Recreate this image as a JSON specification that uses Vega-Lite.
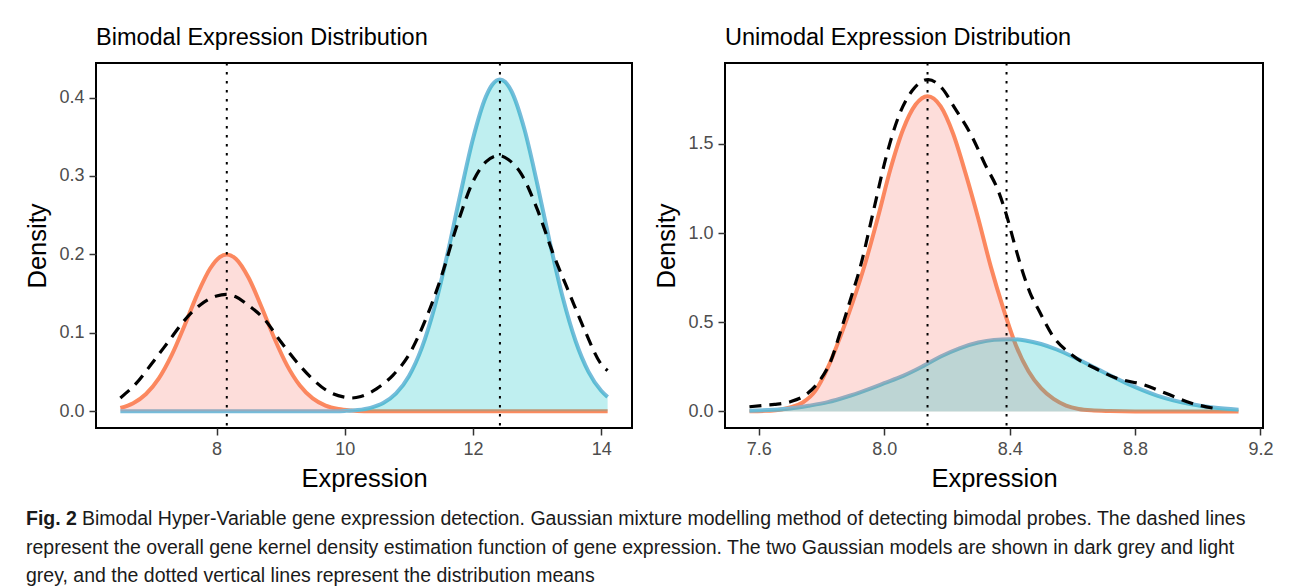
{
  "$schema": "https://vega.github.io/schema/vega-lite/v6.json",
  "background": "white",
  "padding": {"left": 24, "top": 24, "right": 5, "bottom": 0},
  "datasets": {
    "curves": [
      {"panel": "bimodal", "series": "g1", "expr": 6.5, "dens": 0.0044},
      {"panel": "bimodal", "series": "g1", "expr": 6.7, "dens": 0.0104},
      {"panel": "bimodal", "series": "g1", "expr": 6.9, "dens": 0.0221},
      {"panel": "bimodal", "series": "g1", "expr": 7.1, "dens": 0.042},
      {"panel": "bimodal", "series": "g1", "expr": 7.3, "dens": 0.0716},
      {"panel": "bimodal", "series": "g1", "expr": 7.5, "dens": 0.1092},
      {"panel": "bimodal", "series": "g1", "expr": 7.7, "dens": 0.1491},
      {"panel": "bimodal", "series": "g1", "expr": 7.9, "dens": 0.1821},
      {"panel": "bimodal", "series": "g1", "expr": 8.05, "dens": 0.1967},
      {"panel": "bimodal", "series": "g1", "expr": 8.16, "dens": 0.2},
      {"panel": "bimodal", "series": "g1", "expr": 8.3, "dens": 0.1946},
      {"panel": "bimodal", "series": "g1", "expr": 8.5, "dens": 0.1703},
      {"panel": "bimodal", "series": "g1", "expr": 8.7, "dens": 0.1334},
      {"panel": "bimodal", "series": "g1", "expr": 8.9, "dens": 0.0935},
      {"panel": "bimodal", "series": "g1", "expr": 9.1, "dens": 0.0586},
      {"panel": "bimodal", "series": "g1", "expr": 9.3, "dens": 0.0329},
      {"panel": "bimodal", "series": "g1", "expr": 9.5, "dens": 0.0165},
      {"panel": "bimodal", "series": "g1", "expr": 9.7, "dens": 0.0074},
      {"panel": "bimodal", "series": "g1", "expr": 9.9, "dens": 0.003},
      {"panel": "bimodal", "series": "g1", "expr": 10.1, "dens": 0.0011},
      {"panel": "bimodal", "series": "g1", "expr": 10.3, "dens": 0.0003},
      {"panel": "bimodal", "series": "g1", "expr": 10.6, "dens": 0},
      {"panel": "bimodal", "series": "g1", "expr": 11.5, "dens": 0},
      {"panel": "bimodal", "series": "g1", "expr": 12.5, "dens": 0},
      {"panel": "bimodal", "series": "g1", "expr": 13.5, "dens": 0},
      {"panel": "bimodal", "series": "g1", "expr": 14.1, "dens": 0},

      {"panel": "bimodal", "series": "g2", "expr": 6.5, "dens": 0},
      {"panel": "bimodal", "series": "g2", "expr": 7.5, "dens": 0},
      {"panel": "bimodal", "series": "g2", "expr": 8.5, "dens": 0},
      {"panel": "bimodal", "series": "g2", "expr": 9.5, "dens": 0},
      {"panel": "bimodal", "series": "g2", "expr": 9.8, "dens": 0.0002},
      {"panel": "bimodal", "series": "g2", "expr": 10.0, "dens": 0.0006},
      {"panel": "bimodal", "series": "g2", "expr": 10.2, "dens": 0.0017},
      {"panel": "bimodal", "series": "g2", "expr": 10.4, "dens": 0.0045},
      {"panel": "bimodal", "series": "g2", "expr": 10.6, "dens": 0.0106},
      {"panel": "bimodal", "series": "g2", "expr": 10.8, "dens": 0.0228},
      {"panel": "bimodal", "series": "g2", "expr": 11.0, "dens": 0.0448},
      {"panel": "bimodal", "series": "g2", "expr": 11.2, "dens": 0.0806},
      {"panel": "bimodal", "series": "g2", "expr": 11.4, "dens": 0.1328},
      {"panel": "bimodal", "series": "g2", "expr": 11.6, "dens": 0.2},
      {"panel": "bimodal", "series": "g2", "expr": 11.8, "dens": 0.2757},
      {"panel": "bimodal", "series": "g2", "expr": 12.0, "dens": 0.3475},
      {"panel": "bimodal", "series": "g2", "expr": 12.2, "dens": 0.4008},
      {"panel": "bimodal", "series": "g2", "expr": 12.3, "dens": 0.4163},
      {"panel": "bimodal", "series": "g2", "expr": 12.42, "dens": 0.423},
      {"panel": "bimodal", "series": "g2", "expr": 12.5, "dens": 0.42},
      {"panel": "bimodal", "series": "g2", "expr": 12.6, "dens": 0.408},
      {"panel": "bimodal", "series": "g2", "expr": 12.8, "dens": 0.3601},
      {"panel": "bimodal", "series": "g2", "expr": 13.0, "dens": 0.2908},
      {"panel": "bimodal", "series": "g2", "expr": 13.2, "dens": 0.2148},
      {"panel": "bimodal", "series": "g2", "expr": 13.4, "dens": 0.1451},
      {"panel": "bimodal", "series": "g2", "expr": 13.6, "dens": 0.0897},
      {"panel": "bimodal", "series": "g2", "expr": 13.8, "dens": 0.0507},
      {"panel": "bimodal", "series": "g2", "expr": 14.0, "dens": 0.0262},
      {"panel": "bimodal", "series": "g2", "expr": 14.1, "dens": 0.0182},

      {"panel": "bimodal", "series": "kde", "expr": 6.5, "dens": 0.017},
      {"panel": "bimodal", "series": "kde", "expr": 6.75, "dens": 0.036},
      {"panel": "bimodal", "series": "kde", "expr": 7.0, "dens": 0.062},
      {"panel": "bimodal", "series": "kde", "expr": 7.25, "dens": 0.089},
      {"panel": "bimodal", "series": "kde", "expr": 7.5, "dens": 0.116},
      {"panel": "bimodal", "series": "kde", "expr": 7.75, "dens": 0.136},
      {"panel": "bimodal", "series": "kde", "expr": 8.0, "dens": 0.147},
      {"panel": "bimodal", "series": "kde", "expr": 8.15, "dens": 0.149},
      {"panel": "bimodal", "series": "kde", "expr": 8.3, "dens": 0.146},
      {"panel": "bimodal", "series": "kde", "expr": 8.5, "dens": 0.135},
      {"panel": "bimodal", "series": "kde", "expr": 8.75, "dens": 0.117},
      {"panel": "bimodal", "series": "kde", "expr": 9.0, "dens": 0.089},
      {"panel": "bimodal", "series": "kde", "expr": 9.25, "dens": 0.063},
      {"panel": "bimodal", "series": "kde", "expr": 9.5, "dens": 0.041},
      {"panel": "bimodal", "series": "kde", "expr": 9.75, "dens": 0.025},
      {"panel": "bimodal", "series": "kde", "expr": 10.0, "dens": 0.018},
      {"panel": "bimodal", "series": "kde", "expr": 10.1, "dens": 0.017},
      {"panel": "bimodal", "series": "kde", "expr": 10.25, "dens": 0.019},
      {"panel": "bimodal", "series": "kde", "expr": 10.5, "dens": 0.029},
      {"panel": "bimodal", "series": "kde", "expr": 10.75, "dens": 0.046},
      {"panel": "bimodal", "series": "kde", "expr": 11.0, "dens": 0.072},
      {"panel": "bimodal", "series": "kde", "expr": 11.25, "dens": 0.115},
      {"panel": "bimodal", "series": "kde", "expr": 11.5, "dens": 0.17},
      {"panel": "bimodal", "series": "kde", "expr": 11.75, "dens": 0.237},
      {"panel": "bimodal", "series": "kde", "expr": 12.0, "dens": 0.293},
      {"panel": "bimodal", "series": "kde", "expr": 12.2, "dens": 0.318},
      {"panel": "bimodal", "series": "kde", "expr": 12.4, "dens": 0.326},
      {"panel": "bimodal", "series": "kde", "expr": 12.55, "dens": 0.321},
      {"panel": "bimodal", "series": "kde", "expr": 12.75, "dens": 0.303},
      {"panel": "bimodal", "series": "kde", "expr": 13.0, "dens": 0.258},
      {"panel": "bimodal", "series": "kde", "expr": 13.25, "dens": 0.201},
      {"panel": "bimodal", "series": "kde", "expr": 13.5, "dens": 0.151},
      {"panel": "bimodal", "series": "kde", "expr": 13.75, "dens": 0.102},
      {"panel": "bimodal", "series": "kde", "expr": 14.0, "dens": 0.06},
      {"panel": "bimodal", "series": "kde", "expr": 14.1, "dens": 0.052},

      {"panel": "unimodal", "series": "g1", "expr": 7.57, "dens": 0.001},
      {"panel": "unimodal", "series": "g1", "expr": 7.62, "dens": 0.003},
      {"panel": "unimodal", "series": "g1", "expr": 7.66, "dens": 0.008},
      {"panel": "unimodal", "series": "g1", "expr": 7.7, "dens": 0.022},
      {"panel": "unimodal", "series": "g1", "expr": 7.74, "dens": 0.05},
      {"panel": "unimodal", "series": "g1", "expr": 7.78, "dens": 0.115},
      {"panel": "unimodal", "series": "g1", "expr": 7.82, "dens": 0.245},
      {"panel": "unimodal", "series": "g1", "expr": 7.86, "dens": 0.42},
      {"panel": "unimodal", "series": "g1", "expr": 7.9, "dens": 0.615},
      {"panel": "unimodal", "series": "g1", "expr": 7.94, "dens": 0.835},
      {"panel": "unimodal", "series": "g1", "expr": 7.98, "dens": 1.09},
      {"panel": "unimodal", "series": "g1", "expr": 8.02, "dens": 1.36},
      {"panel": "unimodal", "series": "g1", "expr": 8.06, "dens": 1.58},
      {"panel": "unimodal", "series": "g1", "expr": 8.1, "dens": 1.72},
      {"panel": "unimodal", "series": "g1", "expr": 8.138, "dens": 1.767},
      {"panel": "unimodal", "series": "g1", "expr": 8.18, "dens": 1.71},
      {"panel": "unimodal", "series": "g1", "expr": 8.22, "dens": 1.555},
      {"panel": "unimodal", "series": "g1", "expr": 8.26, "dens": 1.33},
      {"panel": "unimodal", "series": "g1", "expr": 8.3, "dens": 1.08},
      {"panel": "unimodal", "series": "g1", "expr": 8.34, "dens": 0.81},
      {"panel": "unimodal", "series": "g1", "expr": 8.38, "dens": 0.575},
      {"panel": "unimodal", "series": "g1", "expr": 8.42, "dens": 0.37},
      {"panel": "unimodal", "series": "g1", "expr": 8.46, "dens": 0.225},
      {"panel": "unimodal", "series": "g1", "expr": 8.5, "dens": 0.13},
      {"panel": "unimodal", "series": "g1", "expr": 8.54, "dens": 0.07},
      {"panel": "unimodal", "series": "g1", "expr": 8.58, "dens": 0.033},
      {"panel": "unimodal", "series": "g1", "expr": 8.62, "dens": 0.014},
      {"panel": "unimodal", "series": "g1", "expr": 8.66, "dens": 0.006},
      {"panel": "unimodal", "series": "g1", "expr": 8.72, "dens": 0.002},
      {"panel": "unimodal", "series": "g1", "expr": 8.8, "dens": 0},
      {"panel": "unimodal", "series": "g1", "expr": 9.0, "dens": 0},
      {"panel": "unimodal", "series": "g1", "expr": 9.13, "dens": 0},

      {"panel": "unimodal", "series": "g2", "expr": 7.57, "dens": 0.004},
      {"panel": "unimodal", "series": "g2", "expr": 7.65, "dens": 0.009},
      {"panel": "unimodal", "series": "g2", "expr": 7.7, "dens": 0.016},
      {"panel": "unimodal", "series": "g2", "expr": 7.76, "dens": 0.032},
      {"panel": "unimodal", "series": "g2", "expr": 7.82, "dens": 0.052},
      {"panel": "unimodal", "series": "g2", "expr": 7.88, "dens": 0.082},
      {"panel": "unimodal", "series": "g2", "expr": 7.94, "dens": 0.118},
      {"panel": "unimodal", "series": "g2", "expr": 8.0, "dens": 0.158},
      {"panel": "unimodal", "series": "g2", "expr": 8.06, "dens": 0.199},
      {"panel": "unimodal", "series": "g2", "expr": 8.12, "dens": 0.25},
      {"panel": "unimodal", "series": "g2", "expr": 8.18, "dens": 0.308},
      {"panel": "unimodal", "series": "g2", "expr": 8.24, "dens": 0.354},
      {"panel": "unimodal", "series": "g2", "expr": 8.3, "dens": 0.386},
      {"panel": "unimodal", "series": "g2", "expr": 8.35, "dens": 0.401},
      {"panel": "unimodal", "series": "g2", "expr": 8.4, "dens": 0.405},
      {"panel": "unimodal", "series": "g2", "expr": 8.45, "dens": 0.398},
      {"panel": "unimodal", "series": "g2", "expr": 8.5, "dens": 0.378},
      {"panel": "unimodal", "series": "g2", "expr": 8.55, "dens": 0.347},
      {"panel": "unimodal", "series": "g2", "expr": 8.6, "dens": 0.308},
      {"panel": "unimodal", "series": "g2", "expr": 8.68, "dens": 0.237},
      {"panel": "unimodal", "series": "g2", "expr": 8.77, "dens": 0.16},
      {"panel": "unimodal", "series": "g2", "expr": 8.87, "dens": 0.089},
      {"panel": "unimodal", "series": "g2", "expr": 8.98, "dens": 0.04},
      {"panel": "unimodal", "series": "g2", "expr": 9.05, "dens": 0.022},
      {"panel": "unimodal", "series": "g2", "expr": 9.13, "dens": 0.01},

      {"panel": "unimodal", "series": "kde", "expr": 7.57, "dens": 0.026},
      {"panel": "unimodal", "series": "kde", "expr": 7.61, "dens": 0.033},
      {"panel": "unimodal", "series": "kde", "expr": 7.65, "dens": 0.039},
      {"panel": "unimodal", "series": "kde", "expr": 7.7, "dens": 0.054},
      {"panel": "unimodal", "series": "kde", "expr": 7.755, "dens": 0.1},
      {"panel": "unimodal", "series": "kde", "expr": 7.795, "dens": 0.175},
      {"panel": "unimodal", "series": "kde", "expr": 7.83, "dens": 0.285},
      {"panel": "unimodal", "series": "kde", "expr": 7.86, "dens": 0.445},
      {"panel": "unimodal", "series": "kde", "expr": 7.89, "dens": 0.615},
      {"panel": "unimodal", "series": "kde", "expr": 7.925, "dens": 0.82},
      {"panel": "unimodal", "series": "kde", "expr": 7.965, "dens": 1.12},
      {"panel": "unimodal", "series": "kde", "expr": 8.005, "dens": 1.42},
      {"panel": "unimodal", "series": "kde", "expr": 8.045, "dens": 1.65},
      {"panel": "unimodal", "series": "kde", "expr": 8.09, "dens": 1.8},
      {"panel": "unimodal", "series": "kde", "expr": 8.14, "dens": 1.86},
      {"panel": "unimodal", "series": "kde", "expr": 8.185, "dens": 1.81},
      {"panel": "unimodal", "series": "kde", "expr": 8.225, "dens": 1.7},
      {"panel": "unimodal", "series": "kde", "expr": 8.28, "dens": 1.54},
      {"panel": "unimodal", "series": "kde", "expr": 8.32, "dens": 1.39},
      {"panel": "unimodal", "series": "kde", "expr": 8.365, "dens": 1.23},
      {"panel": "unimodal", "series": "kde", "expr": 8.39, "dens": 1.1},
      {"panel": "unimodal", "series": "kde", "expr": 8.415, "dens": 0.94},
      {"panel": "unimodal", "series": "kde", "expr": 8.44, "dens": 0.79},
      {"panel": "unimodal", "series": "kde", "expr": 8.465, "dens": 0.665},
      {"panel": "unimodal", "series": "kde", "expr": 8.495, "dens": 0.56},
      {"panel": "unimodal", "series": "kde", "expr": 8.535, "dens": 0.43},
      {"panel": "unimodal", "series": "kde", "expr": 8.6, "dens": 0.315},
      {"panel": "unimodal", "series": "kde", "expr": 8.68, "dens": 0.235},
      {"panel": "unimodal", "series": "kde", "expr": 8.735, "dens": 0.19},
      {"panel": "unimodal", "series": "kde", "expr": 8.83, "dens": 0.148},
      {"panel": "unimodal", "series": "kde", "expr": 8.9, "dens": 0.1},
      {"panel": "unimodal", "series": "kde", "expr": 8.98, "dens": 0.046},
      {"panel": "unimodal", "series": "kde", "expr": 9.07, "dens": 0.012}
    ],
    "means": [
      {"panel": "bimodal", "expr": 8.16},
      {"panel": "bimodal", "expr": 12.42},
      {"panel": "unimodal", "expr": 8.138},
      {"panel": "unimodal", "expr": 8.39}
    ],
    "caption": [
      {"line": 1, "part": "label", "text": "Fig. 2"},
      {"line": 1, "part": "first", "text": "Bimodal Hyper-Variable gene expression detection. Gaussian mixture modelling method of detecting bimodal probes. The dashed lines"},
      {"line": 2, "part": "rest", "text": "represent the overall gene kernel density estimation function of gene expression. The two Gaussian models are shown in dark grey and light"},
      {"line": 3, "part": "rest", "text": "grey, and the dotted vertical lines represent the distribution means"}
    ]
  },
  "vconcat": [
    {
      "hconcat": [
        {
          "title": "Bimodal Expression Distribution",
          "width": 536,
          "height": 365,
          "encoding": {
            "x": {
              "field": "expr",
              "type": "quantitative",
              "scale": {"domain": [6.12, 14.48], "nice": false, "zero": false},
              "axis": {"title": "Expression", "values": [8, 10, 12, 14], "format": "d"}
            }
          },
          "layer": [
            {
              "data": {"name": "curves"},
              "transform": [{"filter": "datum.panel === 'bimodal' && datum.series === 'g1'"}],
              "mark": {"type": "line", "color": "#FC8A5E", "strokeWidth": 4, "interpolate": "monotone"},
              "encoding": {
                "y": {"field": "dens", "type": "quantitative", "scale": {"domain": [-0.0212, 0.444], "nice": false, "zero": false}, "axis": {"title": "Density", "values": [0, 0.1, 0.2, 0.3, 0.4], "format": ".1f"}}
              }
            },
            {
              "data": {"name": "curves"},
              "transform": [{"filter": "datum.panel === 'bimodal' && datum.series === 'g2'"}],
              "mark": {"type": "line", "color": "#76BCDA", "strokeWidth": 4, "interpolate": "monotone"},
              "encoding": {"y": {"field": "dens", "type": "quantitative"}}
            },
            {
              "data": {"name": "curves"},
              "transform": [{"filter": "datum.panel === 'bimodal' && datum.series === 'g1'"}],
              "mark": {"type": "area", "color": "#F8766D", "opacity": 0.25, "interpolate": "monotone"},
              "encoding": {"y": {"field": "dens", "type": "quantitative"}, "y2": {"datum": 0}}
            },
            {
              "data": {"name": "curves"},
              "transform": [{"filter": "datum.panel === 'bimodal' && datum.series === 'g2'"}],
              "mark": {"type": "area", "color": "#00BFC4", "opacity": 0.25, "interpolate": "monotone"},
              "encoding": {"y": {"field": "dens", "type": "quantitative"}, "y2": {"datum": 0}}
            },
            {
              "data": {"name": "curves"},
              "transform": [{"filter": "datum.panel === 'bimodal' && datum.series === 'kde'"}],
              "mark": {"type": "line", "color": "black", "strokeWidth": 3.2, "strokeDash": [12, 8], "strokeCap": "butt", "interpolate": "monotone"},
              "encoding": {"y": {"field": "dens", "type": "quantitative"}}
            },
            {
              "data": {"name": "means"},
              "transform": [{"filter": "datum.panel === 'bimodal'"}],
              "mark": {"type": "rule", "color": "black", "strokeWidth": 2, "strokeDash": [2.5, 6.5]},
              "encoding": {}
            }
          ]
        },
        {
          "title": "Unimodal Expression Distribution",
          "width": 538,
          "height": 365,
          "encoding": {
            "x": {
              "field": "expr",
              "type": "quantitative",
              "scale": {"domain": [7.492, 9.208], "nice": false, "zero": false},
              "axis": {"title": "Expression", "values": [7.6, 8.0, 8.4, 8.8, 9.2], "format": ".1f"}
            }
          },
          "layer": [
            {
              "data": {"name": "curves"},
              "transform": [{"filter": "datum.panel === 'unimodal' && datum.series === 'g1'"}],
              "mark": {"type": "line", "color": "#FC8A5E", "strokeWidth": 4, "interpolate": "monotone"},
              "encoding": {
                "y": {"field": "dens", "type": "quantitative", "scale": {"domain": [-0.093, 1.953], "nice": false, "zero": false}, "axis": {"title": "Density", "values": [0, 0.5, 1, 1.5], "format": ".1f"}}
              }
            },
            {
              "data": {"name": "curves"},
              "transform": [{"filter": "datum.panel === 'unimodal' && datum.series === 'g2'"}],
              "mark": {"type": "line", "color": "#76BCDA", "strokeWidth": 4, "interpolate": "monotone"},
              "encoding": {"y": {"field": "dens", "type": "quantitative"}}
            },
            {
              "data": {"name": "curves"},
              "transform": [{"filter": "datum.panel === 'unimodal' && datum.series === 'g1'"}],
              "mark": {"type": "area", "color": "#F8766D", "opacity": 0.25, "interpolate": "monotone"},
              "encoding": {"y": {"field": "dens", "type": "quantitative"}, "y2": {"datum": 0}}
            },
            {
              "data": {"name": "curves"},
              "transform": [{"filter": "datum.panel === 'unimodal' && datum.series === 'g2'"}],
              "mark": {"type": "area", "color": "#00BFC4", "opacity": 0.25, "interpolate": "monotone"},
              "encoding": {"y": {"field": "dens", "type": "quantitative"}, "y2": {"datum": 0}}
            },
            {
              "data": {"name": "curves"},
              "transform": [{"filter": "datum.panel === 'unimodal' && datum.series === 'kde'"}],
              "mark": {"type": "line", "color": "black", "strokeWidth": 3.2, "strokeDash": [12, 8], "strokeCap": "butt", "interpolate": "monotone"},
              "encoding": {"y": {"field": "dens", "type": "quantitative"}}
            },
            {
              "data": {"name": "means"},
              "transform": [{"filter": "datum.panel === 'unimodal'"}],
              "mark": {"type": "rule", "color": "black", "strokeWidth": 2, "strokeDash": [2.5, 6.5]},
              "encoding": {}
            }
          ]
        }
      ],
      "spacing": 20,
      "bounds": "full"
    },
    {
      "width": 1170,
      "height": 85,
      "data": {"name": "caption"},
      "view": {"stroke": null},
      "encoding": {
        "x": {"datum": 0, "type": "quantitative", "scale": {"domain": [0, 1]}, "axis": null},
        "y": {"field": "line", "type": "ordinal", "axis": null},
        "text": {"field": "text"}
      },
      "layer": [
        {
          "transform": [{"filter": "datum.part === 'label'"}],
          "mark": {"type": "text", "align": "left", "baseline": "middle", "fontSize": 19.5, "fontWeight": "bold", "color": "#1a1a1a", "dx": -70}
        },
        {
          "transform": [{"filter": "datum.part === 'first'"}],
          "mark": {"type": "text", "align": "left", "baseline": "middle", "fontSize": 19.5, "color": "#1a1a1a", "dx": -14}
        },
        {
          "transform": [{"filter": "datum.part === 'rest'"}],
          "mark": {"type": "text", "align": "left", "baseline": "middle", "fontSize": 19.5, "color": "#1a1a1a", "dx": -70}
        }
      ]
    }
  ],
  "spacing": 12,
  "bounds": "full",
  "config": {
    "font": "Liberation Sans",
    "view": {"stroke": "black", "strokeWidth": 2},
    "axis": {
      "grid": false,
      "domain": false,
      "ticks": true,
      "tickColor": "#333333",
      "tickWidth": 1.5,
      "tickSize": 7,
      "labelColor": "#4D4D4D",
      "labelFontSize": 18,
      "labelPadding": 5,
      "labelFlush": false,
      "labelOverlap": false,
      "titleFontSize": 25.5,
      "titleFontWeight": "normal",
      "titleColor": "black",
      "titlePadding": 8
    },
    "title": {"fontSize": 23.5, "fontWeight": "normal", "anchor": "start", "frame": "group", "color": "black", "baseline": "alphabetic", "offset": 13}
  }
}
